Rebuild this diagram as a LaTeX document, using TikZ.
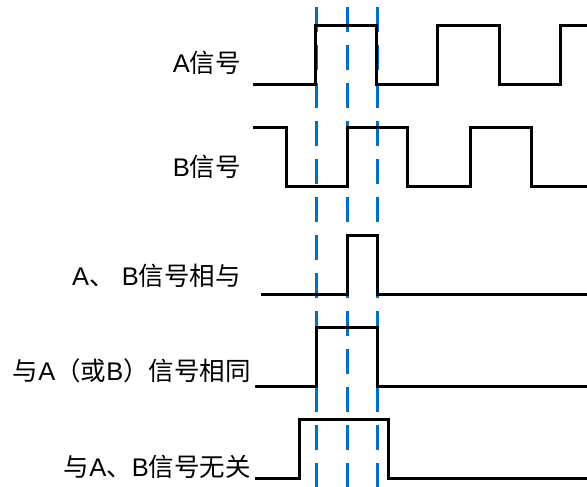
\documentclass[tikz,border=0pt]{standalone}
\usepackage{fontspec}
\setmainfont{Liberation Sans}
\newfontfamily\cjk{Noto Sans CJK SC}
\definecolor{guideblue}{HTML}{0070C0}
\begin{document}
\begin{tikzpicture}[x=1bp,y=-1bp,
  wave/.style={draw=black,line width=3bp,line join=miter},
  guide/.style={draw=guideblue,line width=3bp,dash pattern=on 25bp off 13bp,dash phase=31bp},
  lbl/.style={anchor=east,inner sep=0pt,font=\fontsize{25.5bp}{30bp}\selectfont}]
\useasboundingbox (0,0) rectangle (587,487);
% guide lines
\coordinate (g1t) at (316,0); \coordinate (g1b) at (316,487);
\coordinate (g2t) at (347,0); \coordinate (g2b) at (347,487);
\coordinate (g3t) at (377,0); \coordinate (g3b) at (377,487);
\draw[guide] (g1t) -- (g1b);
\draw[guide] (g2t) -- (g2b);
\draw[guide] (g3t) -- (g3b);
% waveforms
\draw[wave] (253,85) -- (315,85) -- (315,26) -- (376,26) -- (376,85) -- (437,85) -- (437,26) -- (499,26) -- (499,85) -- (560,85) -- (560,26) -- (588,26);
\draw[wave] (253,128) -- (286,128) -- (286,187) -- (347,187) -- (347,128) -- (407,128) -- (407,187) -- (470,187) -- (470,128) -- (531,128) -- (531,187) -- (588,187);
\draw[wave] (261,294) -- (347,294) -- (347,235) -- (377,235) -- (377,294) -- (588,294);
\draw[wave] (255,386) -- (316,386) -- (316,327) -- (377,327) -- (377,386) -- (588,386);
\draw[wave] (255,478) -- (299,478) -- (299,419) -- (388,419) -- (388,478) -- (588,478);
% labels
\node[lbl] (la) at (241,63) {A{\cjk 信号}};
\node[lbl] (lb) at (241,167) {B{\cjk 信号}};
\node[lbl] (lc) at (241,276) {A{\cjk 、} B{\cjk 信号相与}};
\node[lbl] (ld) at (251,371) {{\cjk 与}A{\cjk （或}B{\cjk ）信号相同}};
\node[lbl] (le) at (251,467) {{\cjk 与}A{\cjk 、}B{\cjk 信号无关}};
\end{tikzpicture}
\end{document}
